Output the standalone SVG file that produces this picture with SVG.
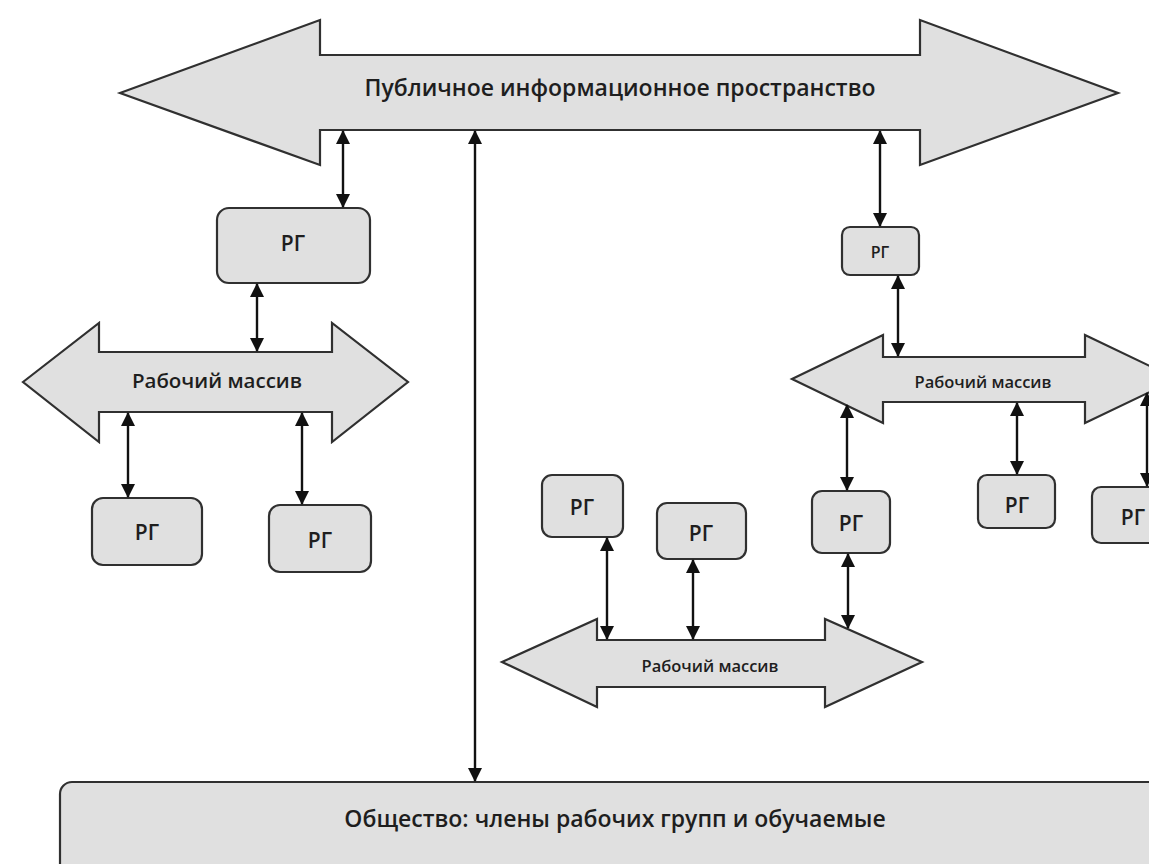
<svg xmlns="http://www.w3.org/2000/svg" width="1149" height="864" viewBox="0 0 1149 864">
<defs>
<style>
.shape{fill:#e0e0e0;stroke:#303030;stroke-width:2.2;stroke-linejoin:miter}
.box{fill:#e0e0e0;stroke:#303030;stroke-width:2.2}
.lbl{font-family:"Open Sans","Liberation Sans",sans-serif;font-weight:600;fill:#1e1e1e;text-anchor:middle;dominant-baseline:central}
.con{stroke:#111;stroke-width:2.4;fill:none;marker-start:url(#ah);marker-end:url(#ah)}
</style>
<marker id="ah" markerUnits="userSpaceOnUse" markerWidth="14" markerHeight="14" refX="13" refY="7" orient="auto-start-reverse" viewBox="0 0 14 14">
<path d="M0,0 L14,7 L0,14 z" fill="#111"/>
</marker>
</defs>
<rect width="1149" height="864" fill="#fff"/>

<g id="public-space">
<polygon class="shape" points="120,93 320,20 320,55 920,55 920,20 1118,93 920,165 920,130 320,130 320,165"/>
<text class="lbl" x="620" y="87" font-size="23">Публичное информационное пространство</text>
</g>

<g id="array-left">
<polygon class="shape" points="23,382 99,323 99,352 332,352 332,323 408,382 332,442 332,412 99,412 99,442"/>
<text class="lbl" x="217" y="380" font-size="20.5">Рабочий массив</text>
</g>

<g id="array-right">
<polygon class="shape" points="792,379 883,335 883,357 1085,357 1085,335 1177,379 1085,423 1085,402 883,402 883,423"/>
<text class="lbl" x="983" y="381" font-size="16.5">Рабочий массив</text>
</g>

<g id="array-bottom">
<polygon class="shape" points="502,662 597,619 597,640 825,640 825,619 922,662 825,707 825,687 597,687 597,707"/>
<text class="lbl" x="710" y="665" font-size="16.5">Рабочий массив</text>
</g>

<g id="rg1"><rect class="box" x="217" y="208" width="153" height="75" rx="12"/><text class="lbl" x="293" y="243" font-size="21">РГ</text></g>
<g id="rg2"><rect class="box" x="92" y="498" width="110" height="67" rx="11"/><text class="lbl" x="147" y="532" font-size="21">РГ</text></g>
<g id="rg3"><rect class="box" x="269" y="505" width="102" height="67" rx="11"/><text class="lbl" x="320" y="540" font-size="21">РГ</text></g>
<g id="rg4"><rect class="box" x="842" y="227" width="77" height="48" rx="8"/><text class="lbl" x="880" y="252" font-size="16">РГ</text></g>
<g id="rg5"><rect class="box" x="542" y="475" width="81" height="62" rx="10"/><text class="lbl" x="582" y="507" font-size="21">РГ</text></g>
<g id="rg6"><rect class="box" x="657" y="503" width="89" height="56" rx="10"/><text class="lbl" x="701" y="533" font-size="21">РГ</text></g>
<g id="rg7"><rect class="box" x="812" y="491" width="78" height="62" rx="10"/><text class="lbl" x="851" y="523" font-size="21">РГ</text></g>
<g id="rg8"><rect class="box" x="978" y="475" width="77" height="53" rx="9"/><text class="lbl" x="1017" y="505" font-size="21">РГ</text></g>
<g id="rg9"><rect class="box" x="1092" y="487" width="80" height="56" rx="9"/><text class="lbl" x="1133" y="517" font-size="21">РГ</text></g>

<g id="society">
<rect class="box" x="60" y="782" width="1120" height="110" rx="12"/>
<text class="lbl" x="615" y="818" font-size="23">Общество: члены рабочих групп и обучаемые</text>
</g>

<g id="connectors">
<line class="con" x1="343" y1="131" x2="343" y2="207"/>
<line class="con" x1="475" y1="131" x2="475" y2="781"/>
<line class="con" x1="880" y1="131" x2="880" y2="226"/>
<line class="con" x1="257" y1="284" x2="257" y2="351"/>
<line class="con" x1="128" y1="413" x2="128" y2="497"/>
<line class="con" x1="302" y1="413" x2="302" y2="504"/>
<line class="con" x1="898" y1="276" x2="898" y2="356"/>
<line class="con" x1="847" y1="405" x2="847" y2="490"/>
<line class="con" x1="1017" y1="403" x2="1017" y2="474"/>
<line class="con" x1="1147" y1="393" x2="1147" y2="486"/>
<line class="con" x1="607" y1="538" x2="607" y2="639"/>
<line class="con" x1="693" y1="560" x2="693" y2="639"/>
<line class="con" x1="848" y1="554" x2="848" y2="628"/>
</g>
</svg>
